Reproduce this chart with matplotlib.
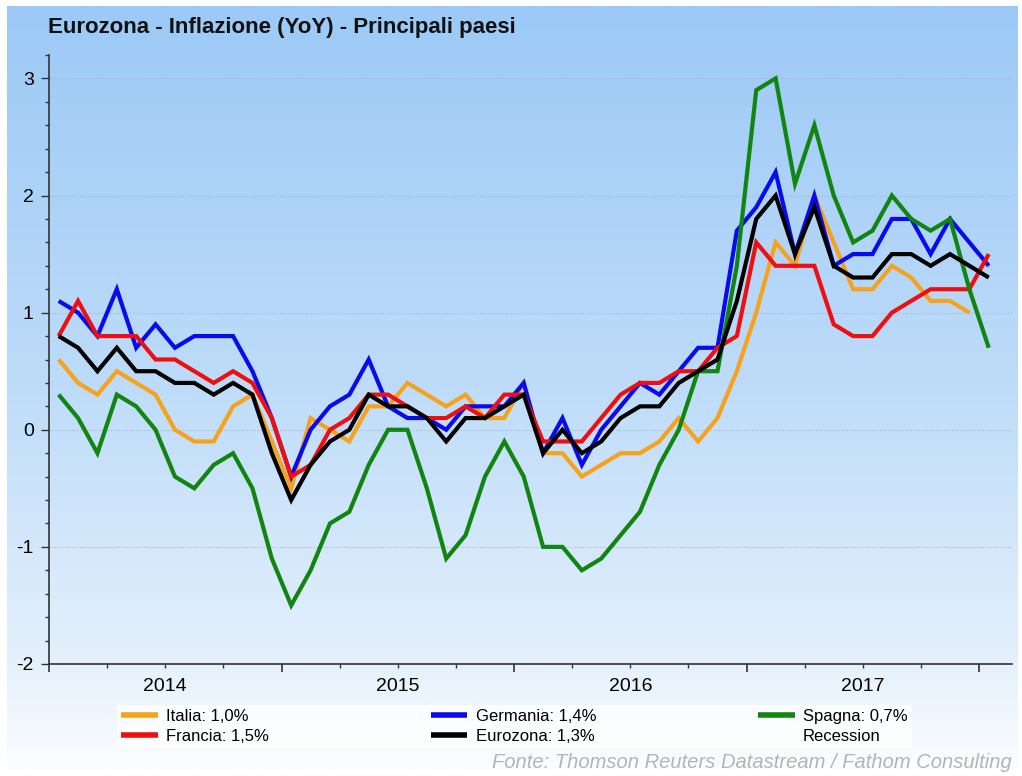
"""Eurozona - Inflazione (YoY) - Principali paesi: riproduzione del grafico Datastream."""

import matplotlib

matplotlib.use("Agg")
import matplotlib.pyplot as plt  # noqa: E402
import numpy as np  # noqa: E402
from matplotlib.colors import LinearSegmentedColormap  # noqa: E402
from matplotlib.ticker import FixedFormatter, FixedLocator  # noqa: E402

plt.rcParams["font.family"] = ["Liberation Sans", "DejaVu Sans"]

# Monthly YoY inflation, Jan 2014 .. Jan 2018 (Italy ends Dec 2017)
ITALIA = [0.6, 0.4, 0.3, 0.5, 0.4, 0.3, 0.0, -0.1, -0.1, 0.2, 0.3, -0.1,
          -0.5, 0.1, 0.0, -0.1, 0.2, 0.2, 0.4, 0.3, 0.2, 0.3, 0.1, 0.1,
          0.4, -0.2, -0.2, -0.4, -0.3, -0.2, -0.2, -0.1, 0.1, -0.1, 0.1, 0.5,
          1.0, 1.6, 1.4, 2.0, 1.6, 1.2, 1.2, 1.4, 1.3, 1.1, 1.1, 1.0]
GERMANIA = [1.1, 1.0, 0.8, 1.2, 0.7, 0.9, 0.7, 0.8, 0.8, 0.8, 0.5, 0.1,
            -0.4, 0.0, 0.2, 0.3, 0.6, 0.2, 0.1, 0.1, 0.0, 0.2, 0.2, 0.2,
            0.4, -0.2, 0.1, -0.3, 0.0, 0.2, 0.4, 0.3, 0.5, 0.7, 0.7, 1.7,
            1.9, 2.2, 1.5, 2.0, 1.4, 1.5, 1.5, 1.8, 1.8, 1.5, 1.8, 1.6,
            1.4]
FRANCIA = [0.8, 1.1, 0.8, 0.8, 0.8, 0.6, 0.6, 0.5, 0.4, 0.5, 0.4, 0.1,
           -0.4, -0.3, 0.0, 0.1, 0.3, 0.3, 0.2, 0.1, 0.1, 0.2, 0.1, 0.3,
           0.3, -0.1, -0.1, -0.1, 0.1, 0.3, 0.4, 0.4, 0.5, 0.5, 0.7, 0.8,
           1.6, 1.4, 1.4, 1.4, 0.9, 0.8, 0.8, 1.0, 1.1, 1.2, 1.2, 1.2,
           1.5]
SPAGNA = [0.3, 0.1, -0.2, 0.3, 0.2, 0.0, -0.4, -0.5, -0.3, -0.2, -0.5, -1.1,
          -1.5, -1.2, -0.8, -0.7, -0.3, 0.0, 0.0, -0.5, -1.1, -0.9, -0.4, -0.1,
          -0.4, -1.0, -1.0, -1.2, -1.1, -0.9, -0.7, -0.3, 0.0, 0.5, 0.5, 1.4,
          2.9, 3.0, 2.1, 2.6, 2.0, 1.6, 1.7, 2.0, 1.8, 1.7, 1.8, 1.2,
          0.7]
EUROZONA = [0.8, 0.7, 0.5, 0.7, 0.5, 0.5, 0.4, 0.4, 0.3, 0.4, 0.3, -0.2,
            -0.6, -0.3, -0.1, 0.0, 0.3, 0.2, 0.2, 0.1, -0.1, 0.1, 0.1, 0.2,
            0.3, -0.2, 0.0, -0.2, -0.1, 0.1, 0.2, 0.2, 0.4, 0.5, 0.6, 1.1,
            1.8, 2.0, 1.5, 1.9, 1.4, 1.3, 1.3, 1.5, 1.5, 1.4, 1.5, 1.4,
            1.3]

YEARS = ["2014", "2015", "2016", "2017"]
YTICKS = [-2, -1, 0, 1, 2, 3]

# (label, values, colour) in drawing order
SERIES = (
    ("Italia: 1,0%", ITALIA, "#f7a21c"),
    ("Germania: 1,4%", GERMANIA, "#0a0aee"),
    ("Francia: 1,5%", FRANCIA, "#ee1010"),
    ("Spagna: 0,7%", SPAGNA, "#108510"),
    ("Eurozona: 1,3%", EUROZONA, "#000000"),
)

W, H = 1022, 776
fig = plt.figure(figsize=(W / 100, H / 100), dpi=100, facecolor="white")

# background panel: light blue gradient fading to white
bg = fig.add_axes([7 / W, 6 / H, 1010 / W, 764 / H], zorder=-10)
grad = LinearSegmentedColormap.from_list(
    "sky", [(0.0, "#9cc9f6"), (0.5, "#bedcf9"), (0.85, "#e3f0fc"), (1.0, "#fbfdff")])
bg.imshow(np.linspace(0, 1, 256)[:, None], aspect="auto", cmap=grad,
          extent=(0, 1, 0, 1), origin="upper")
bg.set_axis_off()

ax = fig.add_axes([49 / W, 1 - 664 / H, 963 / W, 609 / H])
ax.set_facecolor("none")

handles = {}
for label, vals, color in SERIES:
    x = np.arange(len(vals)) + 0.5
    (ln,) = ax.plot(x, vals, color=color, lw=3.0, solid_joinstyle="miter",
                    solid_capstyle="butt", label=label)
    handles[label] = ln

ax.set_xlim(0, 49.7)
ax.set_ylim(-2, 3.2)

ax.set_yticks(YTICKS)
ax.set_yticklabels([str(v) for v in YTICKS])
ax.yaxis.set_minor_locator(FixedLocator(np.arange(-2, 3.21, 0.2)))
ax.tick_params(axis="y", which="major", length=6, width=1, color="#333333",
               labelsize=14, pad=5)
ax.tick_params(axis="y", which="minor", length=3, width=1, color="#333333")

year_edges = [0, 12, 24, 36, 48]
quarters = [m for m in range(3, 49, 3) if m % 12]
ax.xaxis.set_major_locator(FixedLocator(year_edges))
ax.xaxis.set_major_formatter(FixedFormatter([""] * len(year_edges)))
ax.xaxis.set_minor_locator(FixedLocator(quarters))
ax.xaxis.set_minor_formatter(FixedFormatter(
    [YEARS[m // 12] if m % 12 == 6 else "" for m in quarters]))
ax.tick_params(axis="x", which="major", length=6, width=1.2, color="#333333")
ax.tick_params(axis="x", which="minor", length=3, width=1, color="#333333",
               labelsize=14, pad=7)

for y in YTICKS[1:]:
    ax.axhline(y, color="#a7b6c6", lw=0.8, ls=(0, (1, 1.5)), zorder=0)

for side in ("top", "right"):
    ax.spines[side].set_visible(False)
for side in ("left", "bottom"):
    ax.spines[side].set_color("#333333")
    ax.spines[side].set_linewidth(1.2)

fig.text(48 / W, 1 - 27 / H, "Eurozona - Inflazione (YoY) - Principali paesi",
         fontsize=16, fontweight="bold", color="#111111", va="center", ha="left")

recession = plt.Line2D([], [], color="none")
order = ["Italia: 1,0%", "Francia: 1,5%", "Germania: 1,4%", "Eurozona: 1,3%",
         "Spagna: 0,7%"]
leg = fig.legend([handles[k] for k in order] + [recession], order + ["Recession"],
                 ncol=3, loc="upper left", bbox_to_anchor=(117 / W, 1 - 705 / H),
                 fontsize=12, frameon=True, fancybox=False, handlelength=2.2,
                 handletextpad=0.5, columnspacing=9.7, labelspacing=0.3,
                 borderpad=0.25, borderaxespad=0)
leg.get_frame().set_facecolor("white")
leg.get_frame().set_alpha(0.75)
leg.get_frame().set_edgecolor("none")
for ln in leg.get_lines():
    ln.set_linewidth(4)

fig.text(1012 / W, 1 - 763 / H,
         "Fonte: Thomson Reuters Datastream / Fathom Consulting",
         fontsize=14.5, style="italic", color="#b4b4b4", ha="right", va="center")

fig.savefig("out.png", dpi=100, facecolor="white")
